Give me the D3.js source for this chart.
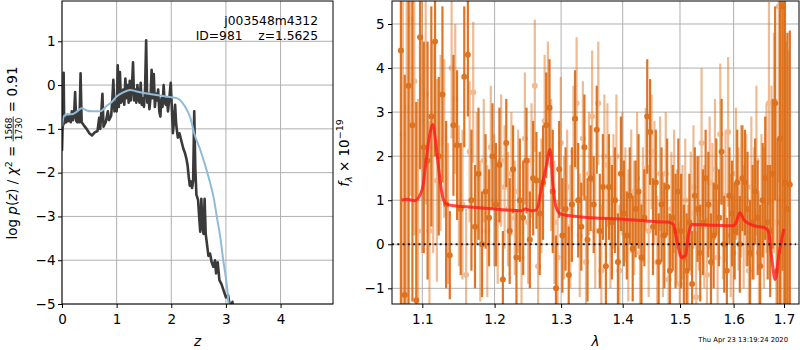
<!DOCTYPE html>
<html lang="en">
<head>
<meta charset="utf-8">
<title>zfit</title>
<script src="https://d3js.org/d3.v7.min.js"></script>
<style>
  body { margin: 0; background: #fff; }
  svg text { font-family: "DejaVu Sans", sans-serif; fill: #000; white-space: pre; }
  .grid line { stroke: #b0b0b0; stroke-width: 1; }
  .axis path { display: none; }
  .axis line { stroke: #000; stroke-width: 1; }
  .axis text { font-size: 13.5px; }
</style>
</head>
<body>
<script>
// ---- left panel: log p(z) ----
var zPz = [0.00,0.01,0.02,0.03,0.04,0.06,0.08,0.10,0.12,0.14,0.16,0.18,0.20,0.22,0.24,0.26,0.28,0.30,0.32,0.34,0.36,0.40,0.45,0.50,0.55,0.60,0.65,0.68,0.70,0.74,0.76,0.80,0.84,0.86,0.90,0.92,0.94,0.96,0.98,1.00,1.02,1.04,1.06,1.08,1.10,1.12,1.14,1.16,1.18,1.20,1.22,1.24,1.26,1.28,1.30,1.32,1.34,1.36,1.38,1.40,1.42,1.44,1.46,1.48,1.50,1.52,1.54,1.56,1.58,1.60,1.62,1.64,1.66,1.68,1.70,1.72,1.74,1.76,1.78,1.80,1.82,1.84,1.86,1.88,1.90,1.92,1.94,1.96,1.99,2.01,2.03,2.05,2.07,2.09,2.12,2.15,2.19,2.22,2.25,2.28,2.30,2.32,2.34,2.36,2.38,2.40,2.42,2.44,2.46,2.49,2.51,2.53,2.55,2.57,2.59,2.61,2.63,2.66,2.68,2.71,2.74,2.77,2.80,2.82,2.85,2.88,2.92,2.96,3.00,3.04,3.08,3.12,3.14];
var logPz = [-1.5,-1.0,-0.9,0.28,-0.88,-0.75,-0.85,-0.68,-0.82,-0.7,-0.85,-0.6,-0.8,-0.7,-0.16,-0.82,-0.85,-0.6,-0.85,0.27,-0.85,-0.92,-1.0,-1.1,-1.15,-1.08,-1.05,-0.75,-1.0,-0.2,-0.95,-0.85,-0.6,-0.8,-0.7,-0.35,0.12,-0.6,-0.4,-0.6,0.45,-0.5,0.3,-0.4,-0.35,-0.1,-0.45,0.15,-0.3,0.0,-0.4,0.1,-0.35,-0.05,0.52,-0.35,-0.1,-0.4,0.0,-0.3,-0.4,0.05,-0.45,-0.3,-0.5,-0.1,1.02,-0.4,-0.2,-0.55,-0.3,0.35,-0.3,0.25,-0.5,-0.2,-0.35,-0.1,-0.6,-0.72,-0.3,-0.5,0.0,-0.4,-0.45,-0.3,-0.6,-0.35,0.05,-0.5,-1.1,-0.8,-0.45,-0.9,-1.2,-1.1,-1.3,-1.45,-1.55,-1.7,-1.85,-2.1,-2.3,-2.2,-2.35,-2.2,-0.6,-1.9,-2.5,-2.62,-3.0,-3.35,-2.6,-3.2,-3.4,-2.6,-3.4,-3.7,-3.9,-3.85,-4.05,-4.15,-4.0,-4.3,-4.05,-4.45,-4.55,-4.7,-4.85,-4.8,-5.1,-4.95,-5.2];
var zPrior = [0.00,0.03,0.06,0.12,0.20,0.28,0.36,0.45,0.55,0.70,0.76,0.82,0.90,1.00,1.10,1.25,1.35,1.50,1.70,1.90,2.00,2.12,2.25,2.35,2.42,2.55,2.68,2.78,2.83,2.90,2.95,3.02,3.05,3.12];
var logPrior = [-0.95,-0.72,-0.68,-0.67,-0.66,-0.6,-0.53,-0.58,-0.6,-0.6,-0.55,-0.47,-0.4,-0.26,-0.18,-0.11,-0.14,-0.18,-0.22,-0.26,-0.28,-0.31,-0.49,-0.75,-1.1,-1.55,-2.09,-2.6,-2.98,-3.5,-3.99,-4.6,-5.0,-5.6];
var zTicks = [0,1,2,3,4];
var pzTicks = [-5,-4,-3,-2,-1,0,1];

// ---- right panel: spectrum ----
var lamA = [1.072,1.077,1.082,1.087,1.092,1.097,1.102,1.107,1.112,1.117,1.122,1.127,1.132,1.137,1.142,1.147,1.152,1.157,1.162,1.167,1.172,1.177,1.182,1.187,1.192,1.197,1.202,1.207,1.212,1.217,1.222,1.227,1.232,1.237,1.242,1.247,1.252,1.257,1.262,1.267,1.272,1.277,1.282,1.287,1.292,1.297,1.302,1.307,1.312,1.317,1.322,1.327,1.332,1.337,1.342,1.347,1.352,1.357,1.362,1.367,1.372,1.377,1.382,1.387,1.392,1.397,1.402,1.407,1.412,1.417,1.422,1.427,1.432,1.437,1.442,1.447,1.452,1.457,1.462,1.467,1.472,1.477,1.482,1.487,1.492,1.497,1.502,1.507,1.512,1.517,1.522,1.527,1.532,1.537,1.542,1.547,1.552,1.557,1.562,1.567,1.572,1.577,1.582,1.587,1.592,1.597,1.602,1.607,1.612,1.617,1.622,1.627,1.632,1.637,1.642,1.647,1.652,1.657,1.662,1.667,1.672,1.677,1.682,1.687,1.692,1.697,1.702,1.707,1.712];
var fluxA = [4.4,-1.15,3.6,2.7,-1.27,4.7,2.2,1.9,2.9,4.6,
  2.0,3.4,0.9,-0.25,2.7,2.25,0.8,3.8,4.3,1.0,
  0.4,1.6,0.0,1.2,0.6,2.0,0.9,1.8,-0.8,2.3,
  0.3,1.7,-0.3,1.0,0.6,1.9,0.1,1.5,1.45,0.7,
  1.4,2.7,3.1,1.2,-1.0,1.7,0.2,0.8,-0.7,0.9,
  2.85,1.0,0.4,2.2,0.1,1.5,0.9,2.6,0.3,1.3,
  -0.5,1.3,0.5,1.0,-0.4,1.6,0.7,0.2,1.1,-0.1,
  0.8,1.2,-0.3,0.6,2.9,2.55,0.4,1.4,-0.4,0.9,
  0.2,1.3,-0.6,0.6,0.3,1.2,0.3,-0.3,-0.6,0.5,
  -0.9,1.1,0.8,-0.2,0.5,1.5,0.9,-0.4,0.2,1.3,
  0.6,2.1,0.0,-0.6,1.1,0.7,0.3,1.4,0.0,1.5,
  1.4,0.8,-0.2,0.5,1.2,0.6,-0.5,1.0,1.5,0.5,
  0.3,1.6,3.2,-0.6,2.4,5.4,1.4,0.8,1.35];
var errA = [6,5,5,4,4.5,3,2.4,2.7,2.5,2.6,
  1.8,2.0,1.9,1.0,1.6,1.7,1.5,1.6,1.4,1.6,
  1.4,1.5,1.2,1.3,1.1,1.2,1.4,1.3,1.1,1.0,
  1.2,1.0,1.1,1.4,1.3,1.2,1.1,1.3,1.1,1.4,
  1.3,1.2,1.1,1.4,1.2,1.1,1.3,1.4,1.1,1.3,
  1.1,1.3,1.0,1.2,1.4,1.2,1.1,1.0,1.3,1.2,
  1.1,1.2,1.3,1.2,1.1,1.3,1.2,1.0,1.1,1.2,
  1.1,1.3,1.2,1.1,1.3,1.2,1.1,1.2,1.1,1.3,
  1.2,1.1,1.3,1.2,1.3,1.2,1.3,1.2,1.3,1.1,
  1.2,1.1,1.2,1.1,1.2,1.1,1.2,1.1,1.2,1.1,
  1.1,1.2,1.1,1.2,1.1,1.2,1.1,1.2,1.1,1.2,
  1.2,1.3,1.2,1.3,1.2,1.3,1.4,1.3,1.4,1.3,
  1.5,1.7,2.2,3.0,4.0,6,6,4,3.5];
var lamB = [1.0745,1.0795,1.0845,1.0895,1.0945,1.0995,1.1045,1.1095,1.1145,1.1195,1.1245,1.1295,1.1345,1.1395,1.1445,1.1495,1.1545,1.1595,1.1645,1.1695,1.1745,1.1795,1.1845,1.1895,1.1945,1.1995,1.2045,1.2095,1.2145,1.2195,1.2245,1.2295,1.2345,1.2395,1.2445,1.2495,1.2545,1.2595,1.2645,1.2695,1.2745,1.2795,1.2845,1.2895,1.2945,1.2995,1.3045,1.3095,1.3145,1.3195,1.3245,1.3295,1.3345,1.3395,1.3445,1.3495,1.3545,1.3595,1.3645,1.3695,1.3745,1.3795,1.3845,1.3895,1.3945,1.3995,1.4045,1.4095,1.4145,1.4195,1.4245,1.4295,1.4345,1.4395,1.4445,1.4495,1.4545,1.4595,1.4645,1.4695,1.4745,1.4795,1.4845,1.4895,1.4945,1.4995,1.5045,1.5095,1.5145,1.5195,1.5245,1.5295,1.5345,1.5395,1.5445,1.5495,1.5545,1.5595,1.5645,1.5695,1.5745,1.5795,1.5845,1.5895,1.5945,1.5995,1.6045,1.6095,1.6145,1.6195,1.6245,1.6295,1.6345,1.6395,1.6445,1.6495,1.6545,1.6595,1.6645,1.6695,1.6745,1.6795,1.6845,1.6895,1.6945,1.6995,1.7045,1.7095];
var fluxB = [2.5,3.1,5.1,3.7,0.3,2.8,3.4,0.3,2.2,1.45,
  2.3,2.4,0.7,4.0,3.3,1.1,0.9,-0.7,2.1,3.45,
  1.5,0.3,1.9,0.3,2.2,1.0,0.5,1.9,1.3,0.8,
  1.6,0.6,1.2,-0.3,2.4,0.5,1.9,3.6,-0.5,1.1,
  2.8,3.2,1.8,0.5,-0.3,2.3,0.6,1.3,0.4,2.1,
  3.2,0.2,2.4,-0.4,1.6,2.9,0.3,3.2,-0.6,2.0,
  1.8,0.5,1.2,2.0,-0.6,1.6,0.9,0.2,1.2,0.6,
  1.5,-0.2,0.9,1.7,0.3,2.1,1.4,-0.4,1.6,0.2,
  1.6,-0.8,0.8,1.2,0.4,-0.9,0.5,1.0,-0.4,0.7,
  1.3,-1.2,0.7,2.3,0.4,-0.7,1.4,0.9,1.7,-0.3,
  2.5,0.6,1.1,2.55,0.2,-0.2,1.6,0.8,1.2,0.4,
  1.0,-0.6,1.3,0.7,1.9,-0.2,1.0,0.6,1.5,3.2,
  1.6,2.3,0.5,5.4,1.0,2.4,0.6,1.4];
var errB = [4,5,4,3.5,3,3,2.5,2.5,2.4,2.3,
  2.0,1.8,1.6,1.6,1.7,1.6,1.7,1.5,1.6,1.6,
  1.5,1.6,1.4,1.5,1.4,1.5,1.4,1.5,1.4,1.3,
  1.4,1.3,1.4,1.3,1.5,1.4,1.3,1.5,1.4,1.3,
  1.5,1.4,1.5,1.4,1.3,1.5,1.4,1.3,1.4,1.5,
  1.5,1.4,1.3,1.5,1.4,1.5,1.3,1.4,1.5,1.4,
  1.4,1.5,1.3,1.4,1.5,1.4,1.3,1.5,1.4,1.3,
  1.5,1.4,1.3,1.4,1.5,1.3,1.4,1.5,1.3,1.4,
  1.4,1.5,1.3,1.4,1.3,1.4,1.3,1.4,1.3,1.4,
  1.4,1.5,1.3,1.7,1.4,1.3,1.5,1.4,1.6,1.3,
  1.6,1.4,1.5,1.7,1.4,1.3,1.5,1.4,1.5,1.4,
  1.5,1.4,1.6,1.5,1.7,1.4,1.5,1.6,1.7,2.3,
  2.0,2.5,2.8,4.0,5,5,4,3];
var lamModel = [1.073,1.08,1.09,1.10,1.105,1.109,1.114,1.118,1.122,1.127,1.132,1.14,1.16,1.20,1.24,1.245,1.255,1.262,1.27,1.276,1.283,1.287,1.292,1.30,1.35,1.40,1.45,1.48,1.488,1.495,1.503,1.51,1.515,1.522,1.55,1.60,1.605,1.612,1.62,1.64,1.66,1.668,1.675,1.682,1.69,1.70];
var fluxModel = [1.0,1.02,0.99,1.25,1.9,2.4,2.72,2.3,1.7,1.1,0.92,0.88,0.85,0.8,0.76,0.8,0.76,0.78,1.3,1.7,2.15,1.4,0.85,0.68,0.6,0.57,0.52,0.5,0.45,0.05,-0.3,-0.25,0.2,0.45,0.44,0.42,0.5,0.72,0.55,0.42,0.38,0.3,-0.3,-0.8,-0.2,0.35];
var lamTicks = [1.1,1.2,1.3,1.4,1.5,1.6,1.7];
var fluxTicks = [-1,0,1,2,3,4,5];

var W = 800, H = 350;
var svg = d3.select("body").append("svg").attr("width", W).attr("height", H);

// left panel
var L = {x0: 62, x1: 333, y0: 1, y1: 304};
var xz = d3.scaleLinear().domain([0, 4.96]).range([L.x0, L.x1]);
var yz = d3.scaleLinear().domain([-5, 1.92]).range([L.y1, L.y0]);

var gl = svg.append("g");
gl.append("clipPath").attr("id", "clipL").append("rect")
  .attr("x", L.x0).attr("y", L.y0).attr("width", L.x1 - L.x0).attr("height", L.y1 - L.y0);
var gridL = gl.append("g").attr("class", "grid");
gridL.selectAll(".gv").data(zTicks).enter().append("line")
  .attr("x1", d => xz(d)).attr("x2", d => xz(d)).attr("y1", L.y0).attr("y2", L.y1);
gridL.selectAll(".gh").data(pzTicks).enter().append("line")
  .attr("x1", L.x0).attr("x2", L.x1).attr("y1", d => yz(d)).attr("y2", d => yz(d));

var plotL = gl.append("g").attr("clip-path", "url(#clipL)");
var pzLine = d3.line().x(d => xz(d[0])).y(d => yz(d[1]));
plotL.append("path").datum(d3.zip(zPz, logPz)).attr("d", pzLine)
  .attr("fill", "none").attr("stroke", "#3a3a3a").attr("stroke-width", 2.6).attr("stroke-linejoin", "round");
plotL.append("path").datum(d3.zip(zPrior, logPrior)).attr("d", d3.line().curve(d3.curveMonotoneX).x(d => xz(d[0])).y(d => yz(d[1])))
  .attr("fill", "none").attr("stroke", "#8fbbd9").attr("stroke-width", 2);

gl.append("g").attr("class", "axis").attr("transform", "translate(0," + L.y1 + ")")
  .call(d3.axisBottom(xz).tickValues(zTicks).tickFormat(d3.format("d")).tickSizeInner(4).tickPadding(6.5));
gl.append("g").attr("class", "axis").attr("transform", "translate(" + L.x0 + ",0)")
  .call(d3.axisLeft(yz).tickValues(pzTicks).tickFormat(d3.format("d")).tickSizeInner(4).tickPadding(2.5));
gl.append("rect").attr("x", L.x0).attr("y", L.y0).attr("width", L.x1 - L.x0).attr("height", L.y1 - L.y0)
  .attr("fill", "none").attr("stroke", "#000").attr("stroke-width", 1);

gl.append("text").attr("x", 318).attr("y", 25).attr("text-anchor", "end").attr("font-size", "12.3px").text("j003548m4312");
gl.append("text").attr("x", 318).attr("y", 40).attr("text-anchor", "end").attr("font-size", "12.3px")
  .text("ID=981    z=1.5625");
gl.append("text").attr("x", (L.x0 + L.x1) / 2).attr("y", 346).attr("text-anchor", "middle")
  .attr("font-size", "13.5px").attr("font-style", "italic").text("z");

// left y label with a stacked fraction
var yl = gl.append("g").attr("transform", "translate(17,153) rotate(-90)");
var part1 = yl.append("text").attr("font-size", "13.5px");
part1.append("tspan").text("log ");
part1.append("tspan").attr("font-style", "italic").text("p");
part1.append("tspan").text("(");
part1.append("tspan").attr("font-style", "italic").text("z");
part1.append("tspan").text(") / ");
part1.append("tspan").attr("font-style", "italic").text("χ");
part1.append("tspan").attr("font-size", "9.5px").attr("dy", -5.5).text("2");
part1.append("tspan").attr("dy", 5.5).text(" = ");
var w1 = part1.node().getComputedTextLength();
var num = yl.append("text").attr("font-size", "9px").attr("text-anchor", "middle").text("1568");
var den = yl.append("text").attr("font-size", "9px").attr("text-anchor", "middle").text("1730");
var fw = Math.max(num.node().getComputedTextLength(), den.node().getComputedTextLength()) + 2;
var part3 = yl.append("text").attr("font-size", "13.5px").text(" = 0.91");
var w3 = part3.node().getComputedTextLength();
var total = w1 + fw + w3;
var sx = -total / 2;
part1.attr("x", sx);
num.attr("x", sx + w1 + fw / 2).attr("y", -5);
den.attr("x", sx + w1 + fw / 2).attr("y", 4.5);
yl.append("line").attr("x1", sx + w1).attr("x2", sx + w1 + fw).attr("y1", -3.8).attr("y2", -3.8)
  .attr("stroke", "#000").attr("stroke-width", 0.8);
part3.attr("x", sx + w1 + fw);

// right panel
var R = {x0: 392, x1: 799, y0: 1, y1: 304};
var xl = d3.scaleLog().domain([1.0606, 1.731]).range([R.x0, R.x1]);
var yf = d3.scaleLinear().domain([-1.356, 5.522]).range([R.y1, R.y0]);

var gr = svg.append("g");
gr.append("clipPath").attr("id", "clipR").append("rect")
  .attr("x", R.x0).attr("y", R.y0).attr("width", R.x1 - R.x0).attr("height", R.y1 - R.y0);
var gridR = gr.append("g").attr("class", "grid");
gridR.selectAll(".gv").data(lamTicks).enter().append("line")
  .attr("x1", d => xl(d)).attr("x2", d => xl(d)).attr("y1", R.y0).attr("y2", R.y1);
gridR.selectAll(".gh").data(fluxTicks).enter().append("line")
  .attr("x1", R.x0).attr("x2", R.x1).attr("y1", d => yf(d)).attr("y2", d => yf(d));

var plotR = gr.append("g").attr("clip-path", "url(#clipR)");
function drawSpec(lam, flux, err, op) {
  var data = lam.map((l, i) => ({l: l, f: flux[i], e: err[i]}));
  var g = plotR.append("g").attr("opacity", op);
  g.selectAll("line").data(data).enter().append("line")
    .attr("x1", d => xl(d.l)).attr("x2", d => xl(d.l))
    .attr("y1", d => yf(d.f - d.e)).attr("y2", d => yf(d.f + d.e))
    .attr("stroke", "#dc6a12").attr("stroke-width", 2.2);
  g.selectAll("circle").data(data).enter().append("circle")
    .attr("cx", d => xl(d.l)).attr("cy", d => yf(d.f)).attr("r", 3)
    .attr("fill", "#dc6a12");
}
drawSpec(lamB, fluxB, errB, 0.45);
drawSpec(lamA, fluxA, errA, 0.92);

plotR.append("path").datum(d3.zip(lamModel, fluxModel))
  .attr("d", d3.line().curve(d3.curveMonotoneX).x(d => xl(d[0])).y(d => yf(d[1])))
  .attr("fill", "none").attr("stroke", "#ff1a1a").attr("stroke-opacity", 0.8).attr("stroke-width", 3);
plotR.append("line").attr("x1", xl(1.0606)).attr("x2", xl(1.725)).attr("y1", yf(0)).attr("y2", yf(0))
  .attr("stroke", "#000").attr("stroke-width", 2).attr("stroke-dasharray", "2,3.3").attr("opacity", 0.85);

gr.append("g").attr("class", "axis").attr("transform", "translate(0," + R.y1 + ")")
  .call(d3.axisBottom(xl).tickValues(lamTicks).tickFormat(d3.format(".1f")).tickSizeInner(4).tickPadding(6.5));
gr.append("g").attr("class", "axis").attr("transform", "translate(" + R.x0 + ",0)")
  .call(d3.axisLeft(yf).tickValues(fluxTicks).tickFormat(d3.format("d")).tickSizeInner(4).tickPadding(3.5));
gr.append("rect").attr("x", R.x0).attr("y", R.y0).attr("width", R.x1 - R.x0).attr("height", R.y1 - R.y0)
  .attr("fill", "none").attr("stroke", "#000").attr("stroke-width", 1);

gr.append("text").attr("x", (R.x0 + R.x1) / 2).attr("y", 346).attr("text-anchor", "middle")
  .attr("font-size", "13.5px").attr("font-style", "italic").text("λ");

var yr = gr.append("text").attr("transform", "translate(349,153) rotate(-90)").attr("text-anchor", "middle")
  .attr("font-size", "13.5px");
yr.append("tspan").attr("font-style", "italic").text("f");
yr.append("tspan").attr("font-style", "italic").attr("font-size", "9.5px").attr("dy", 3).text("λ");
yr.append("tspan").attr("dy", -3).text(" × 10");
yr.append("tspan").attr("font-size", "9.5px").attr("dy", -6).text("−19");

svg.append("text").attr("x", 788).attr("y", 342).attr("text-anchor", "end")
  .attr("font-size", "6.8px").text("Thu Apr 23 13:19:24 2020");
</script>
</body>
</html>
